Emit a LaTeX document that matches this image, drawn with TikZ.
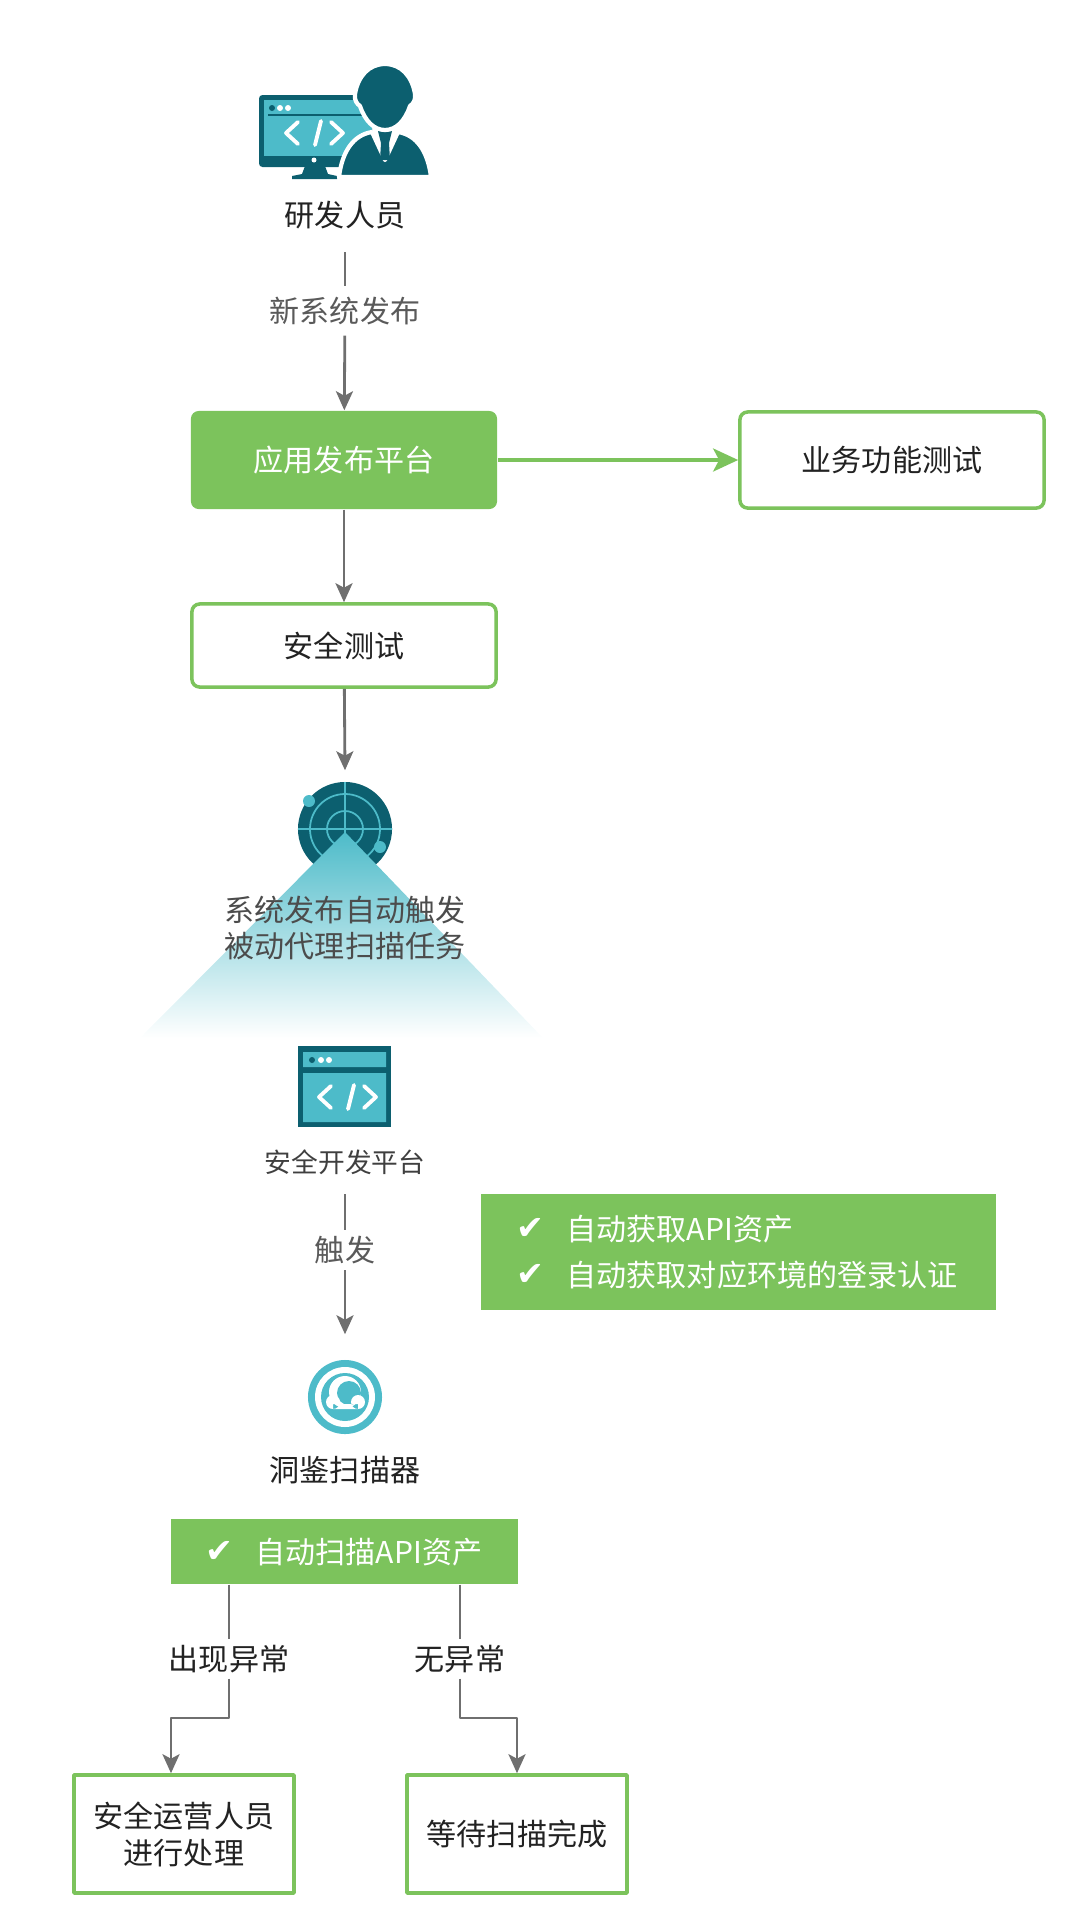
\documentclass[tikz,border=0pt]{standalone}
\usepackage{fontspec}
\setmainfont{Noto Sans CJK SC}
\newfontfamily\symfont{DejaVu Sans}
\usetikzlibrary{arrows.meta}
\definecolor{leaf}{HTML}{7CC35C}
\definecolor{deepteal}{HTML}{0C5F6F}
\definecolor{lightteal}{HTML}{4DBBC9}
\definecolor{wiregray}{HTML}{6F6F6F}
\definecolor{inkgray}{HTML}{5A5A5A}
\definecolor{inkdark}{HTML}{222222}
\tikzset{
	txt/.style={font=\fontsize{8.55}{10.5}\selectfont,text=inkdark,align=center,inner sep=0},
	graytxt/.style={txt,text=inkgray},
	linelabel/.style={txt,minimum height=#1},
	whitetxt/.style={txt,text=white},
	tick/.style={font=\symfont\fontsize{9.5}{9.5}\selectfont,text=white,inner sep=0},
	greenbox/.style={fill=leaf,inner sep=0,minimum width=#1},
	linebox/.style={draw=leaf,fill=white,line width=1pt,txt,minimum width=3.04cm,minimum height=.96cm,rounded corners=2.2pt},
	endbox/.style={draw=leaf,fill=white,line width=1pt,txt,minimum width=2.2cm,minimum height=1.18cm},
	flow/.style={draw=wiregray,line width=.8pt},
	code/.style={draw=white,line width=1.1pt,line cap=round,line join=round}
}
\newcommand{\codesign}[2]{
	\draw[code] (#1-20,#2-11) -- (#1-32,#2) -- (#1-20,#2+11);
	\draw[code] (#1+13,#2-11) -- (#1+25,#2) -- (#1+13,#2+11);
	\draw[code] (#1-3,#2+12) -- (#1+3,#2-12);
}
\begin{document}
\begin{tikzpicture}[x=0.01cm,y=-0.01cm,line join=round,>={Stealth[length=1.9mm,width=1.7mm,inset=.45mm]}]
	\useasboundingbox (0,0) rectangle (1080,1920);
	\fill[deepteal,rounded corners=1pt] (259,95) rectangle (372,167);
	\fill[lightteal] (264,100) rectangle (372,156);
	\draw[deepteal,line width=.6pt] (268,115) -- (372,115);
	\fill[deepteal] (272,108) circle (3);
	\fill[white] (280,108) circle (3) (288,108) circle (3);
	\codesign{318}{133}
	\fill[deepteal] (305,166) -- (325,166) -- (328,174) -- (337,176) -- (337,179) -- (292,179) -- (292,176) -- (302,174) -- cycle;
	\fill[white] (314,160) circle (2.5);
	\filldraw[deepteal,draw=white,line width=1.2pt] (339,177) .. controls (342,152) and (353,135) .. (372,132) -- (385,160) -- (398,132) .. controls (417,135) and (428,152) .. (431,177) -- cycle;
	\fill[deepteal] (378,131) -- (392,131) -- (389,143) -- (390,160) -- (380,160) -- (381,143) -- cycle;
	\filldraw[deepteal,draw=white,line width=1.2pt] (355,94) .. controls (358,76) and (369,64) .. (385,64) .. controls (401,64) and (412,76) .. (415,94) .. controls (416,100) and (413,104) .. (410,106) .. controls (405,121) and (396,130) .. (385,130) .. controls (374,130) and (365,121) .. (360,106) .. controls (357,104) and (354,100) .. (355,94) -- cycle;
	\node[txt] (devlabel) at (345,215) {研发人员};
	\node[linelabel=.48cm,graytxt] (publishlabel) at (345,311) {新系统发布};
	\node[greenbox=3.06cm,minimum height=.98cm,rounded corners=2.2pt,whitetxt] (platform) at (344,460) {应用发布平台};
	\node[linebox] (bizbox) at (892,460) {业务功能测试};
	\node[linebox,minimum height=.83cm] (safebox) at (344,645.5) {安全测试};
	\draw[flow] ([yshift=-.37cm]devlabel.center) -- (publishlabel);
	\draw[flow,->] (publishlabel) -- (platform);
	\draw[flow,-{Stealth[length=2.5mm,width=2.3mm,inset=.6mm]},draw=leaf,line width=1pt] (platform) -- (bizbox);
	\draw[flow,->] (platform) -- (safebox);
	\node[circle,fill=deepteal,minimum size=.94cm,inner sep=0] (radar) at (345,829) {};
	\draw[flow,->] (safebox) -- ([yshift=.11cm]radar.north);
	\draw[lightteal,line width=.5pt] (345,829) circle (18) (345,829) circle (35) (298,829) -- (392,829) (345,782) -- (345,876);
	\fill[lightteal] (309,801) circle (6) (380,847) circle (6);
	\shade[top color=lightteal,middle color=lightteal!55,bottom color=white] (345,832) -- (543,1038) -- (140,1038) -- cycle;
	\node[graytxt,text=inkgray!85!black] (triggerlabel) at (345,928) {系统发布自动触发\\被动代理扫描任务};
	\fill[deepteal] (298,1046) rectangle (391,1127);
	\fill[lightteal] (303,1052) rectangle (386,1067) (303,1073) rectangle (386,1122);
	\fill[deepteal] (312,1060) circle (3);
	\fill[white] (321,1060) circle (3) (329,1060) circle (3);
	\codesign{351}{1097}
	\node[graytxt,font=\fontsize{7.6}{9}\selectfont,text=inkgray!70!black] (devplatform) at (345,1162) {安全开发平台};
	\node[linelabel=.39cm,graytxt] (firelabel) at (345,1250) {触发};
	\node[circle,fill=lightteal,minimum size=.74cm,inner sep=0] (scanner) at (345,1397) {};
	\draw[flow] ([yshift=-.32cm]devplatform.center) -- (firelabel);
	\draw[flow,->] (firelabel) -- ([yshift=.25cm]scanner.north);
	\fill[white] (345,1397) circle (30);
	\fill[lightteal] (345,1397) circle (24);
	\fill[white] (345,1392) circle (16);
	\fill[lightteal] (349,1393) circle (12);
	\fill[white] (333,1402) circle (7) (358,1402) circle (7) (333,1404) rectangle (358,1409);
	\node[txt] (scanlabel) at (345,1470) {洞鉴扫描器};
	\node[greenbox=5.15cm,minimum height=1.16cm] (autobox) at (738.5,1252) {};
	\node[tick] (tickapi) at (530,1229) {✔};
	\node[tick] (ticklogin) at (530,1275) {✔};
	\node[whitetxt,anchor=west] (apitxt) at (566,1229) {自动获取API资产};
	\node[whitetxt,anchor=west] (logintxt) at (566,1275) {自动获取对应环境的登录认证};
	\node[greenbox=3.47cm,minimum height=.65cm] (scanbox) at (344.5,1551.5) {};
	\node[tick] (tickscan) at (219,1552) {✔};
	\node[whitetxt,anchor=west] (scantxt) at (255,1552) {自动扫描API资产};
	\node[linelabel=.38cm] (errlabel) at (229,1659) {出现异常};
	\node[linelabel=.38cm] (oklabel) at (460,1659) {无异常};
	\node[endbox] (handlebox) at (184,1834) {安全运营人员\\进行处理};
	\node[endbox] (waitbox) at (517,1834) {等待扫描完成};
	\coordinate (errturn) at (171,1718);
	\coordinate (okturn) at (517,1718);
	\draw[flow] (scanbox.south -| errlabel) -- (errlabel);
	\draw[flow,->] (errlabel) |- (errturn) -- (handlebox.north -| errturn);
	\draw[flow] (scanbox.south -| oklabel) -- (oklabel);
	\draw[flow,->] (oklabel) |- (okturn) -- (waitbox.north);
\end{tikzpicture}
\end{document}
